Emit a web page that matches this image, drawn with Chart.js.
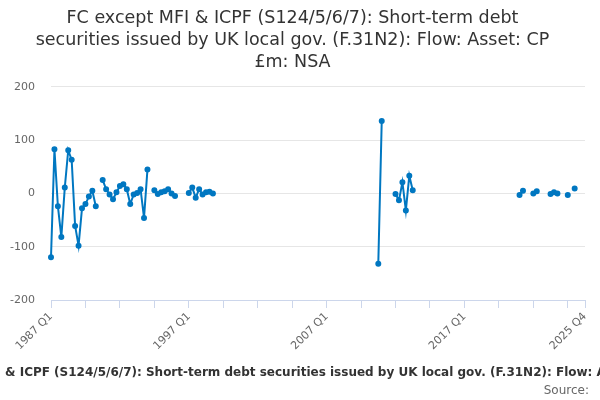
<!DOCTYPE html>
<html>
<head>
<meta charset="utf-8">
<script src="https://cdn.jsdelivr.net/npm/chart.js@4/dist/chart.umd.min.js"></script>
<style>
    html, body { margin: 0; padding: 0; background: #ffffff; }
    #wrap { width: 600px; height: 400px; }
</style>
</head>
<body>
<div id="wrap"><canvas id="chart-canvas"></canvas></div>
<script>
// Quarterly flow, £m, 1987 Q1 .. 2025 Q4 (null = no data)
const firstYear = 1987;
const lastYear = 2025;

const flows = [
    -120, 83, -24, -82,      // 1987
    11, 81, 63, -61,         // 1988
    -98, -28, -20, -6,       // 1989
    5, -24, null, 25,        // 1990
    8, -2, -11, 2,           // 1991
    14, 17, 8, -20,          // 1992
    -2, 1, 8, -46,           // 1993
    45, null, 6, -1,         // 1994
    2, 4, 8, 0,              // 1995
    -5, null, null, null,    // 1996
    1, 11, -8, 8,            // 1997
    -2, 2, 3, 0,             // 1998
    null, null, null, null,  // 1999
    null, null, null, null,  // 2000
    null, null, null, null,  // 2001
    null, null, null, null,  // 2002
    null, null, null, null,  // 2003
    null, null, null, null,  // 2004
    null, null, null, null,  // 2005
    null, null, null, null,  // 2006
    null, null, null, null,  // 2007
    null, null, null, null,  // 2008
    null, null, null, null,  // 2009
    null, null, null, -132,  // 2010
    136, null, null, null,   // 2011
    -1, -13, 21, -32,        // 2012
    33, 6, null, null,       // 2013
    null, null, null, null,  // 2014
    null, null, null, null,  // 2015
    null, null, null, null,  // 2016
    null, null, null, null,  // 2017
    null, null, null, null,  // 2018
    null, null, null, null,  // 2019
    null, null, null, null,  // 2020
    -3, 5, null, null,       // 2021
    0, 4, null, null,        // 2022
    null, -1, 2, 0,          // 2023
    null, null, -3, null,    // 2024
    9, null, null, null      // 2025
];

// Axis labels shown on the x axis, y axis range
const labelledTicks = ['1987 Q1', '1997 Q1', '2007 Q1', '2017 Q1', '2025 Q4'];
const tickEvery = 10; // minor tick marks every 10 quarters
const yMin = -200;
const yMax = 200;
const yStep = 100;

const chartTitle = 'FC except MFI & ICPF (S124/5/6/7): Short-term debt securities issued by UK local gov. (F.31N2): Flow: Asset: CP £m: NSA';
const titleLines = [
    'FC except MFI & ICPF (S124/5/6/7): Short-term debt',
    'securities issued by UK local gov. (F.31N2): Flow: Asset: CP',
    '£m: NSA'
];

// Build quarter labels
const quarters = [];
for (let y = firstYear; y <= lastYear; y++) {
    for (let q = 1; q <= 4; q++) {
        quarters.push(y + ' Q' + q);
    }
}

Chart.defaults.font.family = '"DejaVu Sans", sans-serif';
Chart.defaults.animation = false;

// Caption and source line under the chart
const footerPlugin = {
    id: 'footer',
    afterDraw(chart) {
        const ctx = chart.ctx;
        ctx.save();
        ctx.fillStyle = '#333333';
        ctx.font = 'bold 12px "DejaVu Sans", sans-serif';
        ctx.textAlign = 'center';
        ctx.textBaseline = 'middle';
        ctx.fillText(chartTitle, 314, 373);
        ctx.fillStyle = '#666666';
        ctx.font = '12px "DejaVu Sans", sans-serif';
        ctx.textAlign = 'right';
        ctx.fillText('Source:', 589, 391);
        ctx.restore();
    }
};

const ctx = document.getElementById('chart-canvas');

new Chart(ctx, {
    type: 'line',
    data: {
        labels: quarters,
        datasets: [{
            data: flows,
            borderColor: '#0077c1',
            backgroundColor: '#0077c1',
            borderWidth: 2,
            pointRadius: 2,
            pointHoverRadius: 3,
            tension: 0,
            spanGaps: false
        }]
    },
    options: {
        responsive: true,
        maintainAspectRatio: false,
        layout: {
            padding: { left: 0, right: 15, top: 0, bottom: 44 }
        },
        plugins: {
            legend: { display: false },
            tooltip: { enabled: false },
            title: {
                display: true,
                text: titleLines,
                color: '#333333',
                font: { size: 17.5, weight: 'normal', lineHeight: 1.235 },
                padding: { top: 8, bottom: 14 }
            }
        },
        scales: {
            x: {
                type: 'category',
                offset: false,
                afterBuildTicks: (scale) => {
                    const last = quarters.length - 1;
                    scale.ticks = scale.ticks.filter(t => t.value % tickEvery === 0 || t.value === last);
                },
                afterFit: (scale) => { scale.height = 56; },
                ticks: {
                    autoSkip: false,
                    minRotation: 45,
                    maxRotation: 45,
                    color: '#666666',
                    font: { size: 11 },
                    padding: 2,
                    callback: function (value) {
                        const label = quarters[value];
                        return labelledTicks.includes(label) ? label : '';
                    }
                },
                grid: {
                    drawOnChartArea: false,
                    drawTicks: true,
                    tickLength: 8,
                    color: '#ccd6eb'
                },
                border: { display: true, color: '#ccd6eb', width: 1 }
            },
            y: {
                min: yMin,
                max: yMax,
                afterFit: (scale) => { scale.width = 51; },
                ticks: {
                    stepSize: yStep,
                    color: '#666666',
                    font: { size: 11 },
                    padding: 16
                },
                grid: {
                    color: '#e6e6e6',
                    drawTicks: false
                },
                border: { display: false }
            }
        }
    },
    plugins: [footerPlugin]
});
</script>
</body>
</html>
